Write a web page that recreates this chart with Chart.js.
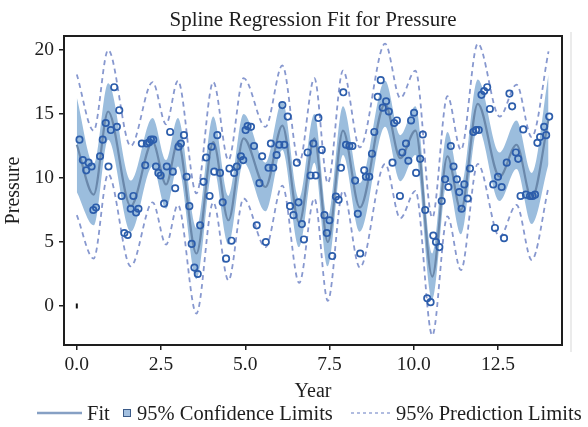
<!DOCTYPE html>
<html>
<head>
<meta charset="utf-8">
<script src="https://cdn.jsdelivr.net/npm/chart.js@4.4.1/dist/chart.umd.min.js"></script>
<style>
html,body{margin:0;padding:0;background:#fff;}
#wrap{width:588px;height:427px;}
</style>
</head>
<body>
<div id="wrap"><canvas id="c" width="588" height="427"></canvas></div>
<script>
// ---- data ----
const knotX    = [0, 0.5, 0.93, 1.6, 2.25, 2.65, 3.0, 3.55, 4.05, 4.5, 4.95, 5.6, 6.1, 6.6, 7.05, 7.45, 7.9, 8.4, 9.15, 9.6, 10.05, 10.55, 11.0, 11.4, 11.9, 12.55, 13.05, 13.5, 14.0];
const fitY     = [12.6, 8.7, 15.2, 7.8, 12.8, 9.5, 12.8, 4.1, 12.8, 6.7, 13.1, 9.3, 14.1, 6.5, 13.1, 5.0, 13.7, 7.7, 15.8, 11.55, 13.7, 2.3, 11.7, 7.5, 15.8, 10.1, 12.6, 8.4, 14.6];
const confLow  = [8.9, 6.3, 13.0, 5.8, 10.9, 7.6, 10.9, 2.1, 10.8, 4.8, 11.2, 7.4, 12.2, 4.6, 11.2, 3.1, 11.8, 5.8, 14.0, 9.75, 11.8, 0.5, 9.8, 5.6, 13.9, 8.2, 10.7, 6.4, 11.1];
const confHigh = [16.3, 11.1, 17.4, 9.8, 14.7, 11.4, 14.7, 6.1, 14.8, 8.6, 15.0, 11.2, 16.0, 8.4, 15.0, 6.9, 15.6, 9.6, 17.6, 13.35, 15.6, 4.1, 13.6, 9.4, 17.7, 12.0, 14.5, 10.4, 18.1];
const predLow  = [7.1, 3.7, 10.3, 3.1, 8.1, 4.8, 7.9, -0.6, 8.1, 2.0, 8.4, 4.6, 9.4, 1.8, 8.4, 0.4, 9.0, 3.0, 11.1, 6.85, 9.0, -2.3, 7.0, 2.8, 11.1, 5.4, 7.9, 3.6, 9.3];
const predHigh = [18.1, 13.7, 20.0, 12.5, 17.5, 14.2, 17.6, 8.8, 17.5, 11.4, 17.8, 14.0, 18.8, 11.2, 17.8, 9.6, 18.4, 12.4, 20.5, 16.25, 18.4, 6.9, 16.4, 12.2, 20.5, 14.8, 17.3, 13.2, 19.9];

const obsX = [0.08,0.18,0.28,0.35,0.44,0.49,0.57,0.69,0.77,0.86,0.94,1.01,1.11,1.19,1.26,1.33,1.41,1.51,1.60,1.68,1.76,1.83,1.93,2.03,2.08,2.15,2.20,2.27,2.35,2.42,2.49,2.59,2.67,2.77,2.85,2.92,3.02,3.09,3.18,3.26,3.34,3.41,3.49,3.59,3.66,3.76,3.84,3.94,4.00,4.08,4.17,4.25,4.33,4.43,4.53,4.59,4.67,4.75,4.87,4.94,5.01,5.07,5.17,5.26,5.34,5.42,5.50,5.61,5.69,5.76,5.83,5.93,6.01,6.10,6.16,6.26,6.33,6.43,6.53,6.58,6.68,6.74,6.85,6.94,7.02,7.09,7.17,7.27,7.35,7.42,7.50,7.58,7.69,7.77,7.84,7.91,7.99,8.09,8.18,8.26,8.34,8.41,8.53,8.58,8.68,8.76,8.83,8.93,9.02,9.08,9.18,9.26,9.37,9.42,9.50,9.59,9.66,9.77,9.84,9.92,10.01,10.07,10.19,10.27,10.34,10.40,10.50,10.58,10.66,10.76,10.83,10.93,11.03,11.10,11.18,11.28,11.35,11.42,11.50,11.60,11.67,11.77,11.85,11.93,12.01,12.09,12.18,12.26,12.36,12.41,12.50,12.61,12.68,12.76,12.84,12.92,13.03,13.10,13.17,13.25,13.33,13.45,13.53,13.60,13.67,13.75,13.87,13.93,14.02];
const obsY = [13.0,11.4,10.6,11.2,10.9,7.5,7.7,11.7,13.0,14.3,10.9,13.75,17.1,14.0,15.3,8.6,5.7,5.55,7.6,8.6,7.3,7.6,12.7,11.0,12.7,12.8,13.0,13.0,10.9,10.4,10.2,8.0,10.9,13.6,10.5,9.2,12.45,12.7,13.35,10.1,7.8,4.85,3.0,2.5,6.3,9.7,11.6,8.6,12.45,10.5,13.35,10.4,8.1,3.7,10.75,5.1,10.4,10.9,11.7,11.4,13.75,14.06,14.0,12.5,6.3,9.6,11.7,5.0,10.8,12.7,10.8,11.8,12.6,15.7,12.6,14.8,7.8,7.1,11.2,8.1,6.4,5.2,12.0,10.2,12.7,10.2,14.7,12.2,7.1,5.7,6.7,3.9,8.55,8.3,10.8,16.7,12.6,12.5,12.5,9.8,7.2,4.1,10.6,10.1,10.1,11.9,13.6,16.35,17.65,15.5,16.0,15.2,11.2,14.3,14.5,8.6,12.0,12.7,11.35,14.5,15.1,10.4,11.5,13.4,7.5,0.6,0.3,5.5,5.0,4.6,8.2,9.9,9.3,12.5,10.9,9.9,8.9,7.6,9.5,8.4,10.75,13.6,13.75,13.75,16.5,16.8,17.1,15.4,9.5,6.1,10.1,9.3,5.3,11.2,16.6,15.6,12.0,11.5,8.6,13.8,8.7,8.6,8.6,8.7,12.75,13.2,14.0,13.35,14.8];

const markX = [0];
const markY = [0];

const xTicks = [0, 2.5, 5, 7.5, 10, 12.5];
const xTickLabels = ["0.0", "2.5", "5.0", "7.5", "10.0", "12.5"];
const yTicks = [0, 5, 10, 15, 20];
const yTickLabels = ["0", "5", "10", "15", "20"];

const titleText = "Spline Regression Fit for Pressure";
const legendLabels = ["Fit", "95% Confidence Limits", "95% Prediction Limits"];

// ---- styling ----
const SERIF = "'Liberation Serif','DejaVu Serif','Times New Roman',serif";
const INK = '#1e1e1e';
const BAND = '#9bbddd';
const FIT = '#6a88ab';
const PRED = '#8798cf';
const PTS = '#2c5dab';

const pts = (xs, ys) => xs.map((x, i) => ({x: x, y: ys[i]}));

const decor = {
  id: 'decor',
  beforeDraw(chart) {
    const c = chart.ctx;
    c.save();
    c.fillStyle = '#ffffff';
    c.fillRect(0, 0, chart.width, chart.height);
    c.restore();
  },
  afterDraw(chart) {
    const c = chart.ctx;
    const a = chart.chartArea;
    c.save();
    c.strokeStyle = '#ebebeb';
    c.lineWidth = 2;
    c.beginPath(); c.moveTo(571, 32); c.lineTo(571, 352); c.stroke();
    c.strokeStyle = INK;
    c.lineWidth = 2;
    c.strokeRect(a.left, a.top, a.right - a.left, a.bottom - a.top);
    c.fillStyle = INK;
    c.font = '21px ' + SERIF;
    c.textAlign = 'center';
    c.textBaseline = 'alphabetic';
    c.fillText(titleText, (a.left + a.right) / 2, 26);
    const ly = 413, lb = 420;
    c.font = '20.5px ' + SERIF;
    c.textAlign = 'left';
    c.strokeStyle = '#86a0c4';
    c.lineWidth = 2.5;
    c.beginPath(); c.moveTo(37, ly); c.lineTo(82, ly); c.stroke();
    c.fillText(legendLabels[0], 87, lb);
    c.fillStyle = '#a3c0e0';
    c.fillRect(123, ly - 4, 8, 8);
    c.strokeStyle = '#3b5b88';
    c.lineWidth = 1;
    c.strokeRect(123.5, ly - 3.5, 7, 7);
    c.fillStyle = INK;
    c.fillText(legendLabels[1], 137, lb);
    c.strokeStyle = PRED;
    c.lineWidth = 1.3;
    c.setLineDash([3, 3]);
    c.beginPath(); c.moveTo(351, ly); c.lineTo(391, ly); c.stroke();
    c.setLineDash([]);
    c.fillText(legendLabels[2], 396, lb);
    c.restore();
  }
};

const common = {pointRadius: 0, cubicInterpolationMode: 'monotone'};

new Chart(document.getElementById('c'), {
  type: 'line',
  data: {
    datasets: [
      Object.assign({label: 'confLow', data: pts(knotX, confLow), borderWidth: 0, borderColor: 'rgba(0,0,0,0)', fill: false, order: 6}, common),
      Object.assign({label: 'confHigh', data: pts(knotX, confHigh), borderWidth: 0, borderColor: 'rgba(0,0,0,0)', fill: '-1', backgroundColor: BAND, order: 5}, common),
      Object.assign({label: 'predLow', data: pts(knotX, predLow), borderWidth: 1.8, borderColor: PRED, borderDash: [5, 4], fill: false, order: 4}, common),
      Object.assign({label: 'predHigh', data: pts(knotX, predHigh), borderWidth: 1.8, borderColor: PRED, borderDash: [5, 4], fill: false, order: 3}, common),
      Object.assign({label: 'Fit', data: pts(knotX, fitY), borderWidth: 2.2, borderColor: FIT, fill: false, order: 2}, common),
      {label: 'obs', data: pts(obsX, obsY), showLine: false, pointStyle: 'circle', pointRadius: 3.2, borderColor: PTS, backgroundColor: 'rgba(0,0,0,0)', borderWidth: 1.7, order: 1},
      {label: 'mark', data: pts(markX, markY), showLine: false, pointStyle: 'line', rotation: 90, pointRadius: 2.5, borderColor: '#111', borderWidth: 2, order: 0}
    ]
  },
  options: {
    responsive: false,
    devicePixelRatio: 1,
    animation: false,
    events: [],
    layout: {padding: {top: 36, right: 26, bottom: 21, left: 0}},
    plugins: {legend: {display: false}, title: {display: false}, tooltip: {enabled: false}},
    scales: {
      x: {
        type: 'linear', min: -0.38, max: 14.4,
        afterBuildTicks: s => { s.ticks = xTicks.map(v => ({value: v})); },
        afterFit: s => { s.height = 61; },
        ticks: {
          callback: (v) => { const i = xTicks.indexOf(v); return i >= 0 ? xTickLabels[i] : ''; },
          font: {family: SERIF, size: 19.5}, color: INK, padding: 3, maxRotation: 0, autoSkip: false
        },
        grid: {drawOnChartArea: false, drawTicks: true, tickLength: 5, color: INK, lineWidth: 1.5},
        border: {display: false},
        title: {display: true, text: 'Year', font: {family: SERIF, size: 20, lineHeight: 1.2}, color: INK, padding: {top: 0, bottom: 2}}
      },
      y: {
        type: 'linear', min: -3.05, max: 21.1,
        afterBuildTicks: s => { s.ticks = yTicks.map(v => ({value: v})); },
        afterFit: s => { s.width = 64; },
        ticks: {
          callback: (v) => { const i = yTicks.indexOf(v); return i >= 0 ? yTickLabels[i] : ''; },
          font: {family: SERIF, size: 19.5}, color: INK, padding: 5, autoSkip: false
        },
        grid: {drawOnChartArea: false, drawTicks: true, tickLength: 5, color: INK, lineWidth: 1.5},
        border: {display: false},
        title: {display: true, text: 'Pressure', font: {family: SERIF, size: 20, lineHeight: 1.2}, color: INK, padding: {top: 2, bottom: 0}}
      }
    }
  },
  plugins: [decor]
});
</script>
</body>
</html>
